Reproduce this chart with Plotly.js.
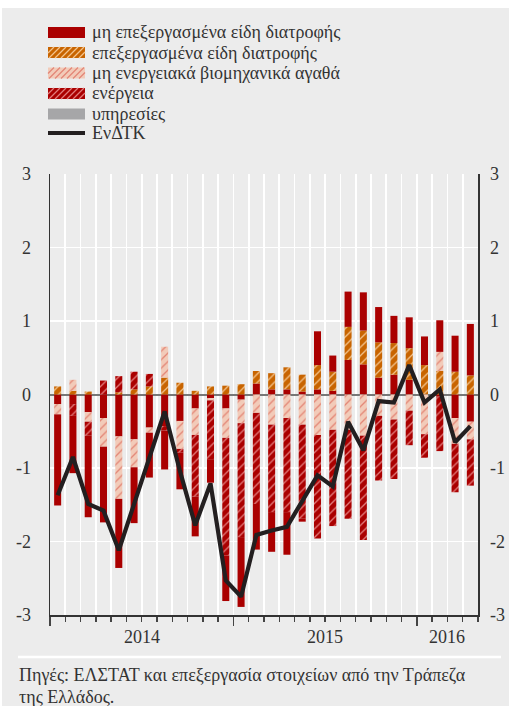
<!DOCTYPE html>
<html>
<head>
<meta charset="utf-8">
<script src="https://cdn.plot.ly/plotly-3.0.1.min.js"></script>
<style>html,body{margin:0;padding:0;background:#ffffff;}#chart{width:509px;height:706px;}</style>
</head>
<body>
<div id="chart"></div>
<script>
// Monthly data Jan 2014 – Apr 2016 (contributions, percentage points)
const months = ['2014-01','2014-02','2014-03','2014-04','2014-05','2014-06','2014-07','2014-08','2014-09','2014-10','2014-11','2014-12',
                '2015-01','2015-02','2015-03','2015-04','2015-05','2015-06','2015-07','2015-08','2015-09','2015-10','2015-11','2015-12',
                '2016-01','2016-02','2016-03','2016-04'];
const unprocessedFood = [-0.13,-0.13,-0.24,-0.32,-0.57,-0.61,-0.45,-0.43,-0.36,-0.19,-0.05,-0.19,
                         -0.07,0.15,0.07,0.07,0.04,0.07,0.05,0.47,0.41,0.23,0.27,0.20,
                         0.00,-0.03,-0.32,-0.37];
const processedFood = [0.11,0.05,0.04,0.00,0.03,0.07,0.11,0.23,0.16,0.05,0.11,0.12,
                       0.14,0.17,0.22,0.30,0.23,0.33,0.26,0.45,0.46,0.48,0.43,0.43,
                       0.40,0.32,0.31,0.26];
const nonEnergyGoods = [-0.14,0.15,-0.13,-0.39,-0.85,-0.38,-0.07,0.42,-0.38,-0.36,-0.03,-0.40,
                        -0.32,-0.25,-0.41,-0.32,-0.41,-0.55,-0.48,-0.48,-0.56,-0.29,-0.34,-0.22,
                        -0.54,0.26,-0.35,-0.24];
const energy = [0.00,-0.16,-0.19,0.19,0.22,0.24,0.17,-0.06,-0.05,-0.84,-0.80,-1.60,
                -1.55,-1.24,-1.19,-1.28,-1.28,-1.41,-1.31,-1.21,-1.42,-0.88,-0.81,-0.47,
                -0.32,-0.74,-0.66,-0.63];
const services = [-1.24,-0.78,-1.11,-1.03,-0.94,-0.76,-0.61,-0.53,-0.50,-0.54,-0.32,-0.62,
                  -0.95,-0.62,-0.54,-0.58,-0.04,0.46,0.22,0.48,0.52,0.48,0.37,0.42,
                  0.39,0.43,0.49,0.70];
const hicp = [-1.37,-0.85,-1.49,-1.58,-2.12,-1.50,-0.88,-0.23,-1.04,-1.78,-1.21,-2.53,
              -2.75,-1.91,-1.85,-1.80,-1.45,-1.10,-1.25,-0.37,-0.76,-0.09,-0.11,0.40,
              -0.11,0.07,-0.65,-0.43];
const seriesNames = ['μη επεξεργασμένα είδη διατροφής','επεξεργασμένα είδη διατροφής','μη ενεργειακά βιομηχανικά αγαθά','ενέργεια','υπηρεσίες','ΕνΔΤΚ'];
const yearLabels = ['2014','2015','2016'];
const yTickVals = [-3,-2,-1,0,1,2,3];
const yTickText = ['-3','-2','-1','0','1','2','3'];
const sourceLines = ['Πηγές: ΕΛΣΤΑΤ και επεξεργασία στοιχείων από την Τράπεζα','της Ελλάδος.'];

// positions derived from the months
const xIdx = months.map((m,i)=>i);
const monthBounds = months.map((m,i)=>i-0.5).concat([months.length-0.5]);
const yearStarts = months.map((m,i)=>[m,i]).filter(d=>d[0].endsWith('-01')).map(d=>d[1]);
const yearBounds = yearStarts.map(i=>i-0.5);
const yearCenters = yearStarts.map((s,k)=>{const e=(k+1<yearStarts.length?yearStarts[k+1]:months.length); return (s+e-1)/2;});

const FONT = 'Liberation Serif, Times New Roman, serif';
const TXT = '#333333';
const C = {
  red:'#aa0000', orange:'#c86400', orangeFg:'#f3c38c',
  pink:'#f2cbb9', pinkFg:'#e38676', energyFg:'#e27c7c', grey:'#a6a6a8', line:'#231f20'
};

function pat(bg, fg){return {shape:'/', bgcolor:bg, fgcolor:fg, fgopacity:1, size:6, solidity:0.22, fillmode:'replace'};}

const traces = [
  {type:'bar', x:xIdx, y:unprocessedFood, name:seriesNames[0], marker:{color:C.red, line:{width:0}}, showlegend:false, hoverinfo:'y+name'},
  {type:'bar', x:xIdx, y:processedFood, name:seriesNames[1], marker:{color:C.orange, line:{width:0}, pattern:pat(C.orange,C.orangeFg)}, showlegend:false, hoverinfo:'y+name'},
  {type:'bar', x:xIdx, y:nonEnergyGoods, name:seriesNames[2], marker:{color:C.pink, line:{width:0}, pattern:pat(C.pink,C.pinkFg)}, showlegend:false, hoverinfo:'y+name'},
  {type:'bar', x:xIdx, y:energy, name:seriesNames[3], marker:{color:C.red, line:{width:0}, pattern:pat(C.red,C.energyFg)}, showlegend:false, hoverinfo:'y+name'},
  {type:'bar', x:xIdx, y:services, name:seriesNames[4], marker:{color:C.red, line:{width:0}}, showlegend:false, hoverinfo:'y+name'},
  {type:'scatter', mode:'lines', x:xIdx, y:hicp, name:seriesNames[5], yaxis:'y2', line:{color:C.line, width:4.2}, showlegend:false, hoverinfo:'y+name'}
];

// plot-area pixel frame for decorations
const PL=50, PR=478, PT=174, PB=615;
const px = v => (v-PL)/(PR-PL);
const py = v => (PB-v)/(PB-PT);

const shapes = [];
const annotations = [];

// white strip at the very top and left
shapes.push({type:'rect', xref:'paper', yref:'paper', x0:px(0), x1:px(509), y0:py(0), y1:py(8), fillcolor:'#ffffff', line:{width:0}, layer:'below'});
shapes.push({type:'rect', xref:'paper', yref:'paper', x0:px(0), x1:px(2), y0:py(0), y1:py(706), fillcolor:'#ffffff', line:{width:0}, layer:'below'});
// separator above source
shapes.push({type:'line', xref:'paper', yref:'paper', x0:px(18), x1:px(501), y0:py(657), y1:py(657), line:{color:'#ffffff', width:2.5}});

// custom legend
const legX0=48, legX1=85, legTextX=90;
const legRows=[32.5,52.5,73,93.5,114,133];
const legStyles=[
  {fill:C.red},
  {fill:C.orange, hatch:C.orangeFg},
  {fill:C.pink, hatch:C.pinkFg},
  {fill:C.red, hatch:C.energyFg},
  {fill:C.grey},
  {line:C.line}
];
function hatchLines(x0,x1,yT,yB,color,step){
  const h=yB-yT;
  for(let c=x0-h; c<x1; c+=step){
    const t0=Math.max(0,x0-c), t1=Math.min(h,x1-c);
    if(t1<=t0) continue;
    shapes.push({type:'line', xref:'paper', yref:'paper', x0:px(c+t0), y0:py(yB-t0), x1:px(c+t1), y1:py(yB-t1), line:{color:color, width:1.2}});
  }
}
legStyles.forEach((s,i)=>{
  const yc=legRows[i];
  if(s.line){
    shapes.push({type:'line', xref:'paper', yref:'paper', x0:px(legX0), x1:px(legX1), y0:py(yc), y1:py(yc), line:{color:s.line, width:4}});
  } else {
    const yT=yc-5.5, yB=yc+5.5;
    shapes.push({type:'rect', xref:'paper', yref:'paper', x0:px(legX0), x1:px(legX1), y0:py(yB), y1:py(yT), fillcolor:s.fill, line:{width:0}});
    if(s.hatch) hatchLines(legX0,legX1,yT,yB,s.hatch,6);
  }
  annotations.push({xref:'paper', yref:'paper', x:px(legTextX), y:py(yc), xanchor:'left', yanchor:'middle', text:seriesNames[i], showarrow:false, font:{family:FONT, size:18, color:TXT}});
});

// year labels
yearLabels.forEach((t,k)=>{
  annotations.push({xref:'x', yref:'paper', x:yearCenters[k], y:py(637), xanchor:'center', yanchor:'middle', text:t, showarrow:false, font:{family:FONT, size:18, color:TXT}});
});
// source
sourceLines.forEach((t,k)=>{
  annotations.push({xref:'paper', yref:'paper', x:px(17), y:py(675+k*22), xanchor:'left', yanchor:'middle', text:t, showarrow:false, font:{family:FONT, size:18, color:TXT}});
});

const layout = {
  width:509, height:706,
  margin:{l:PL, r:509-PR, t:PT, b:706-PB, pad:0},
  paper_bgcolor:'#ececec', plot_bgcolor:'#ececec',
  barmode:'relative', bargap:0.54,
  showlegend:false,
  xaxis:{
    range:[-0.5, months.length-0.5], fixedrange:true,
    tickmode:'array', tickvals:yearBounds, ticks:'outside', ticklen:9, tickwidth:1.3, tickcolor:'#444',
    showticklabels:false,
    showgrid:true, gridcolor:'#ffffff', gridwidth:1.6,
    minor:{tickmode:'array', tickvals:monthBounds, ticks:'outside', ticklen:5, tickwidth:1.3, tickcolor:'#444', showgrid:true, gridcolor:'#ffffff', gridwidth:1.6},
    showline:true, linecolor:'#333', linewidth:1.5, zeroline:false
  },
  yaxis:{
    range:[-3,3], fixedrange:true,
    tickmode:'array', tickvals:yTickVals, ticktext:yTickText, ticks:'',
    tickfont:{family:FONT, size:18, color:TXT}, ticklabelstandoff:14,
    showgrid:true, gridcolor:'#ffffff', gridwidth:1.6,
    zeroline:true, zerolinecolor:'#777777', zerolinewidth:2,
    showline:true, linecolor:'#333', linewidth:1.5
  },
  yaxis2:{
    overlaying:'y', side:'right', range:[-3,3], fixedrange:true,
    tickmode:'array', tickvals:yTickVals, ticktext:yTickText, ticks:'',
    tickfont:{family:FONT, size:18, color:TXT}, ticklabelstandoff:7,
    showgrid:false, zeroline:false,
    showline:true, linecolor:'#333', linewidth:1.5
  },
  shapes:shapes,
  annotations:annotations
};

Plotly.newPlot('chart', traces, layout, {displayModeBar:false, staticPlot:true});
</script>
</body>
</html>
